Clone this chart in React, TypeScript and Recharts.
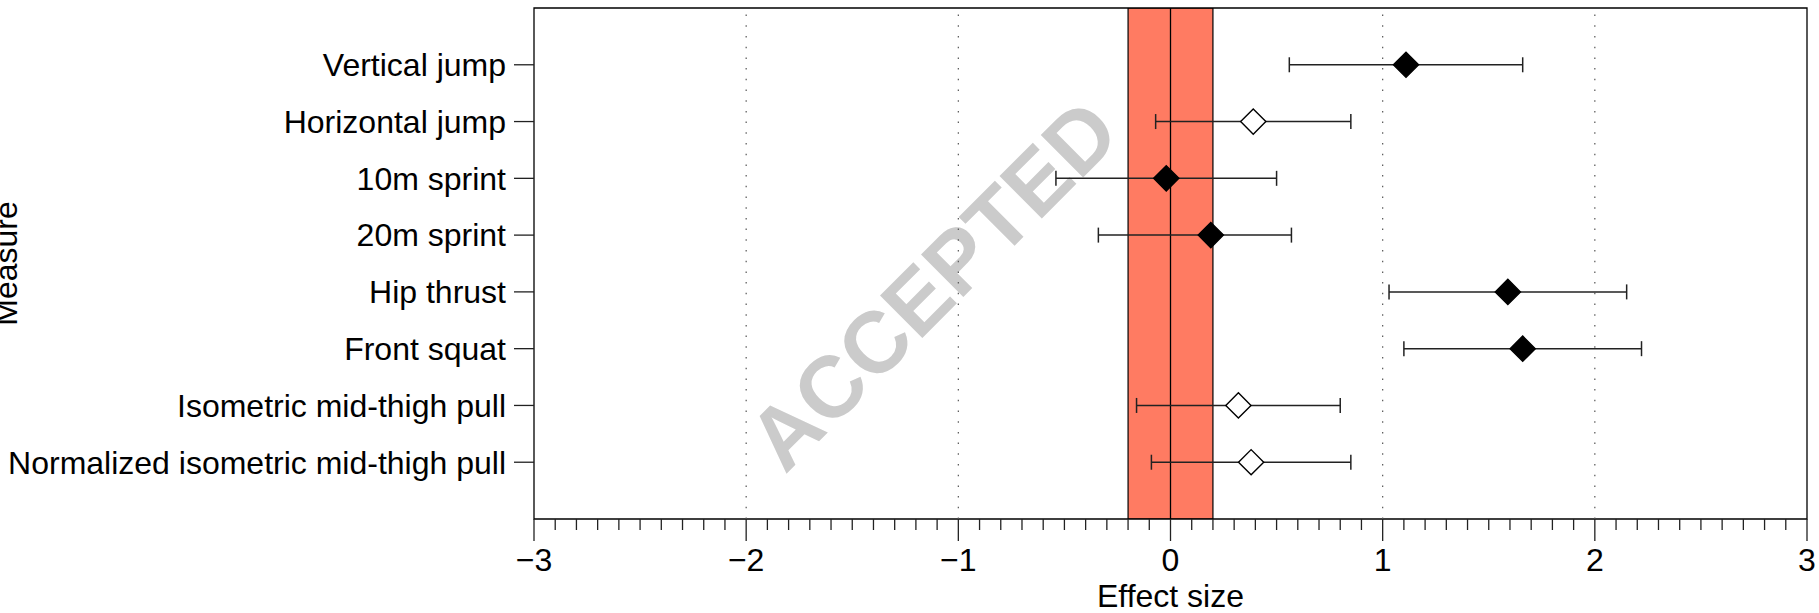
import React from 'react';
import {
  ScatterChart,
  Scatter,
  XAxis,
  YAxis,
  ErrorBar,
  ReferenceArea,
  ReferenceLine,
  Label,
} from 'recharts';

// ---- data ----
const CATEGORIES = [
  'Vertical jump',
  'Horizontal jump',
  '10m sprint',
  '20m sprint',
  'Hip thrust',
  'Front squat',
  'Isometric mid-thigh pull',
  'Normalized isometric mid-thigh pull',
];
const ESTIMATES = [1.11, 0.39, -0.02, 0.19, 1.59, 1.66, 0.32, 0.38];
const LOWER = [0.56, -0.07, -0.54, -0.34, 1.03, 1.1, -0.16, -0.09];
const UPPER = [1.66, 0.85, 0.5, 0.57, 2.15, 2.22, 0.8, 0.85];
const FILLED = [true, false, true, true, true, true, false, false];

const X_MAJOR_TICKS = [-3, -2, -1, 0, 1, 2, 3];
const X_MINOR_STEP = 0.1;
const GRID_LINES = [-2, -1, 1, 2];
const BAND = [-0.2, 0.2];
const ROW_TICKS = [1, 2, 3, 4, 5, 6, 7, 8];

const X_TICKS = Array.from({ length: 61 }, (_, i) => Math.round((X_MAJOR_TICKS[0] + i * X_MINOR_STEP) * 10) / 10);

const rows = CATEGORIES.map((name, i) => ({
  name,
  x: ESTIMATES[i],
  y: ROW_TICKS[i],
  err: [ESTIMATES[i] - LOWER[i], UPPER[i] - ESTIMATES[i]],
  filled: FILLED[i],
}));
const filledRows = rows.filter((r) => r.filled);
const openRows = rows.filter((r) => !r.filled);

const FONT = '"Liberation Sans", Arial, Helvetica, sans-serif';

const makeDiamond = (fill: string) => (props: any) => {
  const { cx, cy } = props;
  if (cx == null || cy == null) return <g />;
  const r = 12.6;
  return (
    <path
      d={`M${cx},${cy - r}L${cx + r},${cy}L${cx},${cy + r}L${cx - r},${cy}Z`}
      fill={fill}
      stroke="#000"
      strokeWidth={1.4}
    />
  );
};

const fmt = (v: number) => (v < 0 ? '\u2212' + Math.abs(v) : String(v));

const XTick = (props: any) => {
  const { x, y, payload } = props;
  const v = payload.value;
  const major = Math.abs(v - Math.round(v)) < 1e-6;
  return (
    <g>
      <line x1={x} x2={x} y1={y} y2={y + (major ? 22 : 11)} stroke="#222" strokeWidth={1.3} />
      {major && (
        <text x={x} y={y + 52} textAnchor="middle" fontSize={32} fill="#000" fontFamily={FONT}>
          {fmt(Math.round(v))}
        </text>
      )}
    </g>
  );
};

export default function App() {
  return (
    <div style={{ position: 'absolute', left: 0, top: 0, width: 1819, height: 613, background: '#fff' }}>
      <svg width={1819} height={613} style={{ position: 'absolute', left: 0, top: 0 }}>
        <text
          x={932}
          y={284}
          dy="0.36em"
          textAnchor="middle"
          transform="rotate(-45 932 284)"
          fontSize={87}
          fontWeight="bold"
          fill="#CBCBCB"
          fontFamily={FONT}
        >
          ACCEPTED
        </text>
      </svg>
      <div style={{ position: 'absolute', left: 0, top: 0 }}>
        <ScatterChart width={1819} height={613} margin={{ top: 8, right: 12, bottom: 0, left: 0 }}>
          <XAxis
            type="number"
            dataKey="x"
            domain={[-3, 3]}
            allowDataOverflow
            ticks={X_TICKS}
            interval={0}
            tickLine={false}
            axisLine={false}
            tickSize={0}
            tickMargin={0}
            tick={<XTick />}
            height={94}
          >
            <Label
              content={(p: any) => {
                const vb = p.viewBox || {};
                return (
                  <text
                    x={vb.x + vb.width / 2}
                    y={vb.y + 88}
                    textAnchor="middle"
                    fontSize={32}
                    fill="#000"
                    fontFamily={FONT}
                  >
                    Effect size
                  </text>
                );
              }}
            />
          </XAxis>
          <YAxis
            type="number"
            dataKey="y"
            domain={[0, 9]}
            reversed
            allowDataOverflow
            ticks={ROW_TICKS}
            interval={0}
            width={534}
            axisLine={false}
            tickLine={{ stroke: '#222', strokeWidth: 1.3 }}
            tickSize={20}
            tickMargin={8}
            tickFormatter={(v: number) => CATEGORIES[v - 1] ?? ''}
            tick={{ fontSize: 32, fill: '#000', fontFamily: FONT }}
          >
            <Label
              content={(p: any) => {
                const vb = p.viewBox || {};
                const cy = vb.y + vb.height / 2;
                return (
                  <text
                    x={16.5}
                    y={cy}
                    textAnchor="middle"
                    transform={`rotate(-90 16.5 ${cy})`}
                    fontSize={32}
                    fill="#000"
                    fontFamily={FONT}
                  >
                    Measure
                  </text>
                );
              }}
            />
          </YAxis>
          <ReferenceArea
            x1={BAND[0]}
            x2={BAND[1]}
            y1={0}
            y2={9}
            fill="#FF7B62"
            fillOpacity={1}
            stroke="#000"
            strokeWidth={1.2}
            ifOverflow="hidden"
          />
          {GRID_LINES.map((g) => (
            <ReferenceLine key={g} x={g} stroke="#555" strokeWidth={1.2} strokeDasharray="1.5 9.2" />
          ))}
          <ReferenceLine x={0} stroke="#000" strokeWidth={1.3} />
          <ReferenceArea
            x1={-3}
            x2={3}
            y1={0}
            y2={9}
            fill="none"
            fillOpacity={0}
            stroke="#000"
            strokeWidth={1.3}
          />
          <Scatter data={filledRows} shape={makeDiamond('#000')} isAnimationActive={false}>
            <ErrorBar dataKey="err" direction="x" width={7.5} stroke="#222" strokeWidth={1.5} isAnimationActive={false} />
          </Scatter>
          <Scatter data={openRows} shape={makeDiamond('#fff')} isAnimationActive={false}>
            <ErrorBar dataKey="err" direction="x" width={7.5} stroke="#222" strokeWidth={1.5} isAnimationActive={false} />
          </Scatter>
        </ScatterChart>
      </div>
    </div>
  );
}
